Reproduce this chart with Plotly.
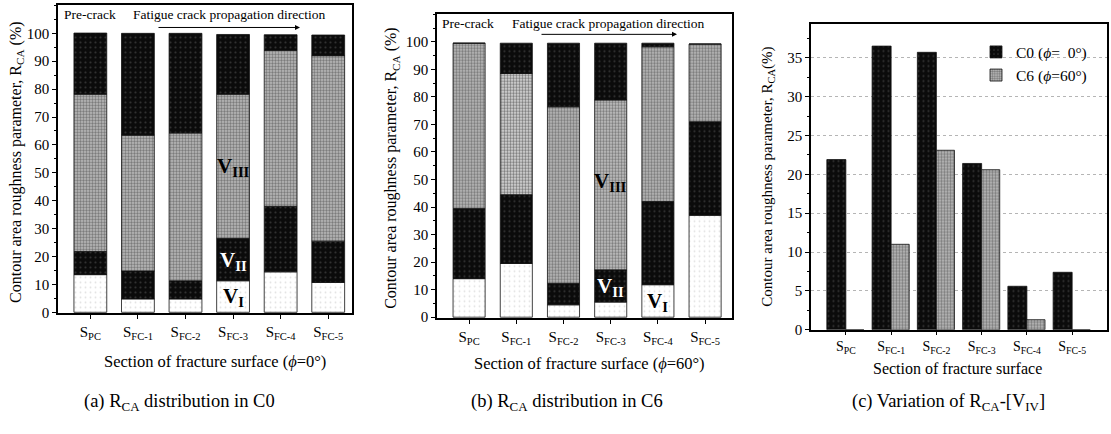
import numpy as np
import plotly.graph_objects as go

categories = ["S<sub>PC</sub>", "S<sub>FC-1</sub>", "S<sub>FC-2</sub>",
              "S<sub>FC-3</sub>", "S<sub>FC-4</sub>", "S<sub>FC-5</sub>"]

# Panel (a): C0 (phi = 0 deg), R_CA components (%)
c0_v1 = [13.5, 4.8, 4.8, 11.3, 14.5, 10.7]
c0_v2 = [8.3, 10.0, 6.5, 15.2, 23.5, 14.8]
c0_v3 = [56.4, 48.7, 53.0, 51.7, 55.9, 66.5]
c0_v4 = [21.9, 36.5, 35.7, 21.4, 5.6, 7.4]

# Panel (b): C6 (phi = 60 deg)
c6_v1 = [14.0, 19.5, 4.5, 5.5, 11.8, 37.0]
c6_v2 = [25.5, 25.0, 7.8, 11.7, 30.2, 34.0]
c6_v3 = [60.0, 44.0, 64.1, 61.7, 56.2, 28.2]
c6_v4 = [0.0, 11.0, 23.1, 20.6, 1.3, 0.0]

FONT = "Liberation Serif, Times New Roman, serif"
W, H = 1111, 434

def px(x):
    return x / W

def py(y):
    return (H - y) / H

fig = go.Figure()

BLACK = dict(color="#0b0b0b", pattern=dict(shape=".", fgcolor="#333333", bgcolor="#0b0b0b", size=5, solidity=0.15, fillmode="replace"))
GRAY = dict(color="#b0b0b0", pattern=dict(shape=".", fgcolor="#7a7a7a", bgcolor="#bebebe", size=3, solidity=0.5, fillmode="replace"))
WHITE = dict(color="#ffffff", pattern=dict(shape=".", fgcolor="#e2e2e2", bgcolor="#ffffff", size=5, solidity=0.1, fillmode="replace"))


def add_stack(series, xa, ya, width, v3_bg=None):
    base = np.zeros(len(categories))
    styles = [WHITE, BLACK, GRAY, BLACK]
    for i, vals in enumerate(series):
        st = {k: (dict(v) if isinstance(v, dict) else v) for k, v in styles[i].items()}
        if i == 2 and v3_bg is not None:
            st["pattern"]["bgcolor"] = v3_bg
        fig.add_trace(go.Bar(
            x=categories, y=vals, base=base.copy(), width=width,
            xaxis=xa, yaxis=ya, showlegend=False,
            marker=dict(**st, line=dict(color="#111", width=0.8)),
        ))
        base = base + np.array(vals)

add_stack([c0_v1, c0_v2, c0_v3, c0_v4], "x", "y", 0.69)
add_stack([c6_v1, c6_v2, c6_v3, c6_v4], "x2", "y2", 0.68,
          v3_bg=["#bebebe", "#e0e0e0", "#bebebe", "#c8c8c8", "#bebebe", "#bebebe"])

fig.add_trace(go.Bar(
    x=categories, y=c0_v4, width=0.42, offset=-0.42, xaxis="x3", yaxis="y3",
    name="C0 (<i>ϕ</i>=  0°)",
    marker=dict(**BLACK, line=dict(color="#111", width=0.8)),
))
fig.add_trace(go.Bar(
    x=categories, y=c6_v4, width=0.4, offset=0.0, xaxis="x3", yaxis="y3",
    name="C6 (<i>ϕ</i>=60°)",
    marker=dict(**GRAY, line=dict(color="#111", width=0.8)),
))

axis_common = dict(showline=True, linecolor="black", linewidth=1.5, mirror=True,
                   ticks="outside", ticklen=4, tickwidth=1, tickcolor="black",
                   showgrid=False, zeroline=False,
                   tickfont=dict(family=FONT, size=15, color="black"))
xc_axis = {**axis_common, "tickfont": dict(family=FONT, size=14, color="black"), "ticklen": 3}

fig.update_layout(
    width=W, height=H, margin=dict(l=0, r=0, t=0, b=0),
    paper_bgcolor="white", plot_bgcolor="white",
    barmode="overlay",
    font=dict(family=FONT, color="black"),
    xaxis=dict(domain=[px(58), px(352)], range=[-0.68, 5.5], anchor="y", **axis_common),
    yaxis=dict(domain=[py(319), py(5)], range=[-0.3, 110.2], anchor="x", tickvals=list(range(0, 101, 10)),
               minor=dict(dtick=5, ticks="outside", ticklen=2, tickcolor="black"), **axis_common),
    xaxis2=dict(domain=[px(437), px(732)], range=[-0.68, 5.57], anchor="y2", **axis_common),
    yaxis2=dict(domain=[py(324), py(14)], range=[-0.3, 110.2], anchor="x2", tickvals=list(range(0, 101, 10)),
                minor=dict(dtick=5, ticks="outside", ticklen=2, tickcolor="black"), **axis_common),
    xaxis3=dict(domain=[px(811), px(1107)], range=[-0.77, 5.77], anchor="y3", **xc_axis),
    yaxis3=dict(domain=[py(336), py(24)], range=[0, 39.4], anchor="x3", dtick=5,
                minor=dict(dtick=2.5, ticks="outside", ticklen=2, tickcolor="black"),
                **{**axis_common, "showgrid": True}, gridcolor="#b5b5b5", griddash="dot", gridwidth=1),
    legend=dict(x=px(976), y=py(36), xanchor="left", yanchor="top", bgcolor="rgba(0,0,0,0)",
                font=dict(family=FONT, size=15.5, color="black"), tracegroupgap=0, itemwidth=30),
)

ann = []
def text(x, y, s, size=14, angle=0, **kw):
    ann.append(dict(x=x, y=y, xref="paper", yref="paper", text=s, showarrow=False,
                    xanchor="center", yanchor="middle",
                    font=dict(family=FONT, size=size, color="black"), textangle=angle, **kw))

ytitle = "Contour area roughness parameter, R<sub>CA</sub> (%)"
text(px(17), py(166), ytitle, 16, -90)
text(px(392), py(172), ytitle, 16, -90)
text(px(768), py(180), "Contour area roughness parameter, R<sub>CA</sub>(%)", 15, -90)

text(px(215), py(368), "Section of fracture surface (<i>ϕ</i>=0°)", 16.5)
text(px(589), py(370), "Section of fracture surface (<i>ϕ</i>=60°)", 16.5)
text(px(957), py(375), "Section of fracture surface", 16)

text(px(179), py(410), "(a) R<sub>CA</sub> distribution in C0", 18.5)
text(px(567), py(410), "(b) R<sub>CA</sub> distribution in C6", 18.5)
text(px(948), py(410), "(c) Variation of R<sub>CA</sub>-[V<sub>IV</sub>]", 18.5)

text(px(90), py(15), "Pre-crack", 13.5)
text(px(230), py(15), "Fatigue crack propagation direction", 13.5)
text(px(468), py(24), "Pre-crack", 13.5)
text(px(608), py(24), "Fatigue crack propagation direction", 13.5)

for (x0, x1, y) in [(157, 300, 28), (540, 677, 35)]:
    ann.append(dict(x=px(x1), y=py(y), xref="paper", yref="paper", ax=-(x1 - x0), ay=0,
                    axref="pixel", ayref="pixel", showarrow=True, arrowhead=2, arrowsize=1,
                    arrowwidth=1, arrowcolor="black", text=""))

def vlabel(xa, ya, xc, yv, num, color):
    ann.append(dict(x=xc, y=yv, xref=xa, yref=ya, showarrow=False,
                    xanchor="center", yanchor="middle",
                    text=f"<b>V</b><sub><b>{num}</b></sub>",
                    font=dict(family=FONT, size=21, color=color)))

vlabel("x", "y", categories[3], 52, "III", "black")
vlabel("x", "y", categories[3], 18.5, "II", "white")
vlabel("x", "y", categories[3], 5.5, "I", "black")
vlabel("x2", "y2", categories[3], 49, "III", "black")
vlabel("x2", "y2", categories[3], 10.8, "II", "white")
vlabel("x2", "y2", categories[4], 5.6, "I", "black")

fig.update_layout(annotations=ann)
fig.write_html("out.html")
